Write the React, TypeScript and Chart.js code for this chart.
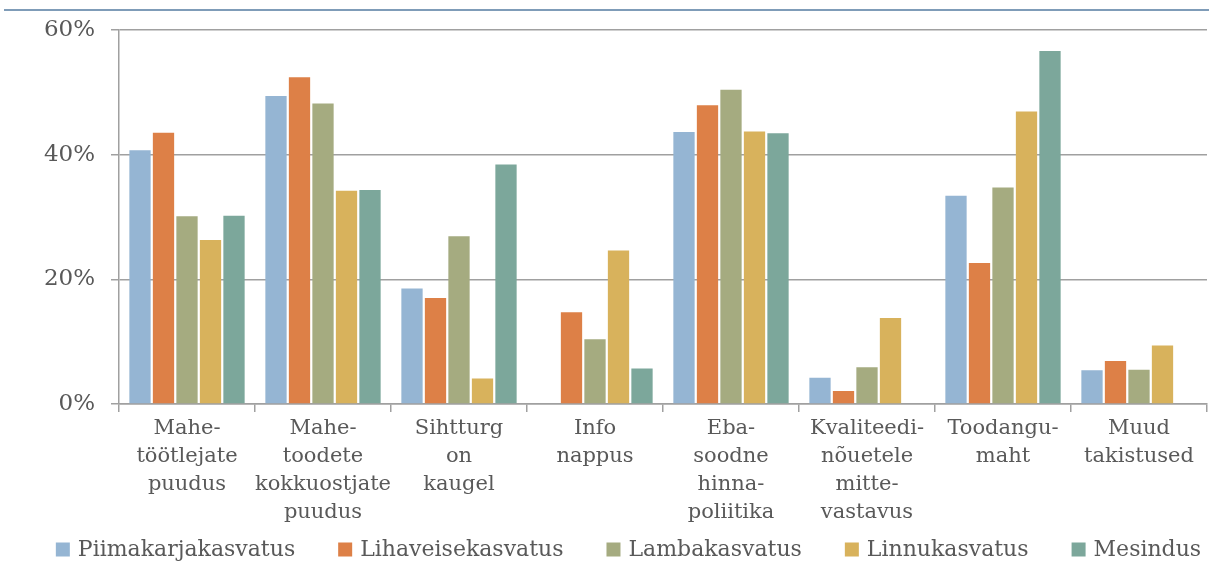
import React, { useEffect, useRef } from "react";
import { Chart, registerables } from "chart.js";

Chart.register(...registerables);

const categories: string[][] = [
  ["Mahe-", "töötlejate", "puudus"],
  ["Mahe-", "toodete", "kokkuostjate", "puudus"],
  ["Sihtturg", "on", "kaugel"],
  ["Info", "nappus"],
  ["Eba-", "soodne", "hinna-", "poliitika"],
  ["Kvaliteedi-", "nõuetele", "mitte-", "vastavus"],
  ["Toodangu-", "maht"],
  ["Muud", "takistused"],
];

const seriesNames = [
  "Piimakarjakasvatus",
  "Lihaveisekasvatus",
  "Lambakasvatus",
  "Linnukasvatus",
  "Mesindus",
];

const piimakarjakasvatus = [40.7, 49.4, 18.5, null, 43.6, 4.2, 33.4, 5.4];
const lihaveisekasvatus = [43.5, 52.4, 17.0, 14.7, 47.9, 2.1, 22.6, 6.9];
const lambakasvatus = [30.1, 48.2, 26.9, 10.4, 50.4, 5.9, 34.7, 5.5];
const linnukasvatus = [26.3, 34.2, 4.1, 24.6, 43.7, 13.8, 46.9, 9.4];
const mesindus = [30.2, 34.3, 38.4, 5.7, 43.4, null, 56.6, null];

const colors = ["#95B5D3", "#DD8047", "#A5AB80", "#D8B25C", "#7CA79B"];

const yTicks = [0, 20, 40, 60];

const FONT = "'DejaVu Serif', serif";
const TEXT = "#595959";
const GRID = "#a0a0a0";

const customLegend = {
  id: "customLegend",
  afterDraw(chart: any) {
    const ctx = chart.ctx;
    ctx.save();
    ctx.font = `22px ${FONT}`;
    ctx.textBaseline = "middle";
    ctx.textAlign = "left";
    const box = 14;
    const boxGap = 8;
    const itemGap = 43;
    const widths = chart.data.datasets.map((d: any) => ctx.measureText(d.label).width);
    const total =
      widths.reduce((a: number, w: number) => a + box + boxGap + w, 0) +
      itemGap * (widths.length - 1);
    let x = 628.5 - total / 2;
    const yc = 549.5;
    chart.data.datasets.forEach((d: any, i: number) => {
      ctx.fillStyle = d.backgroundColor;
      ctx.fillRect(x, yc - box / 2, box, box);
      ctx.fillStyle = TEXT;
      ctx.fillText(d.label, x + box + boxGap, yc + 1);
      x += box + boxGap + widths[i] + itemGap;
    });
    ctx.restore();
  },
};

const topLine = {
  id: "topLine",
  beforeDraw(chart: any) {
    const ctx = chart.ctx;
    ctx.save();
    ctx.strokeStyle = "#7f9cb8";
    ctx.lineWidth = 2;
    ctx.beginPath();
    ctx.moveTo(4, 10);
    ctx.lineTo(chart.width, 10);
    ctx.stroke();
    ctx.restore();
  },
};

export default function App() {
  const ref = useRef<HTMLCanvasElement>(null);

  useEffect(() => {
    document.body.style.margin = "0";
    const allSeries = [piimakarjakasvatus, lihaveisekasvatus, lambakasvatus, linnukasvatus, mesindus];
    const chart = new Chart(ref.current!, {
      type: "bar",
      data: {
        labels: categories,
        datasets: allSeries.map((data, i) => ({
          label: seriesNames[i],
          data,
          backgroundColor: colors[i],
          borderWidth: 0,
          categoryPercentage: 0.864,
          barPercentage: 0.906,
        })),
      },
      options: {
        animation: false,
        responsive: false,
        maintainAspectRatio: false,
        layout: { padding: { top: 27, right: 2, left: 0, bottom: 0 } },
        plugins: {
          legend: { display: false },
          tooltip: { enabled: false },
          title: { display: false },
        },
        scales: {
          x: {
            offset: true,
            grid: {
              offset: true,
              drawOnChartArea: false,
              drawTicks: true,
              tickLength: 8,
              color: GRID,
              lineWidth: 1.5,
            },
            border: { display: true, color: GRID, width: 1.5 },
            ticks: {
              color: TEXT,
              font: { family: FONT, size: 21, lineHeight: 1.333 },
              padding: 3,
              maxRotation: 0,
              autoSkip: false,
            },
            afterFit: (scale: any) => {
              scale.height = 563 - 404;
            },
          },
          y: {
            min: 0,
            max: 60,
            afterBuildTicks: (scale: any) => {
              scale.ticks = yTicks.map((v) => ({ value: v }));
            },
            grid: {
              color: GRID,
              lineWidth: 1.5,
              drawTicks: true,
              tickLength: 8,
            },
            border: { display: true, color: GRID, width: 1.5 },
            ticks: {
              color: TEXT,
              font: { family: FONT, size: 23 },
              padding: 16,
              callback: (v: any) => `${v}%`,
            },
            afterFit: (scale: any) => {
              scale.width = 119;
            },
          },
        },
      },
      plugins: [topLine, customLegend],
    });
    return () => chart.destroy();
  }, []);

  return (
    <div style={{ width: 1209, height: 563 }}>
      <canvas ref={ref} width={1209} height={563} style={{ display: "block" }} />
    </div>
  );
}
